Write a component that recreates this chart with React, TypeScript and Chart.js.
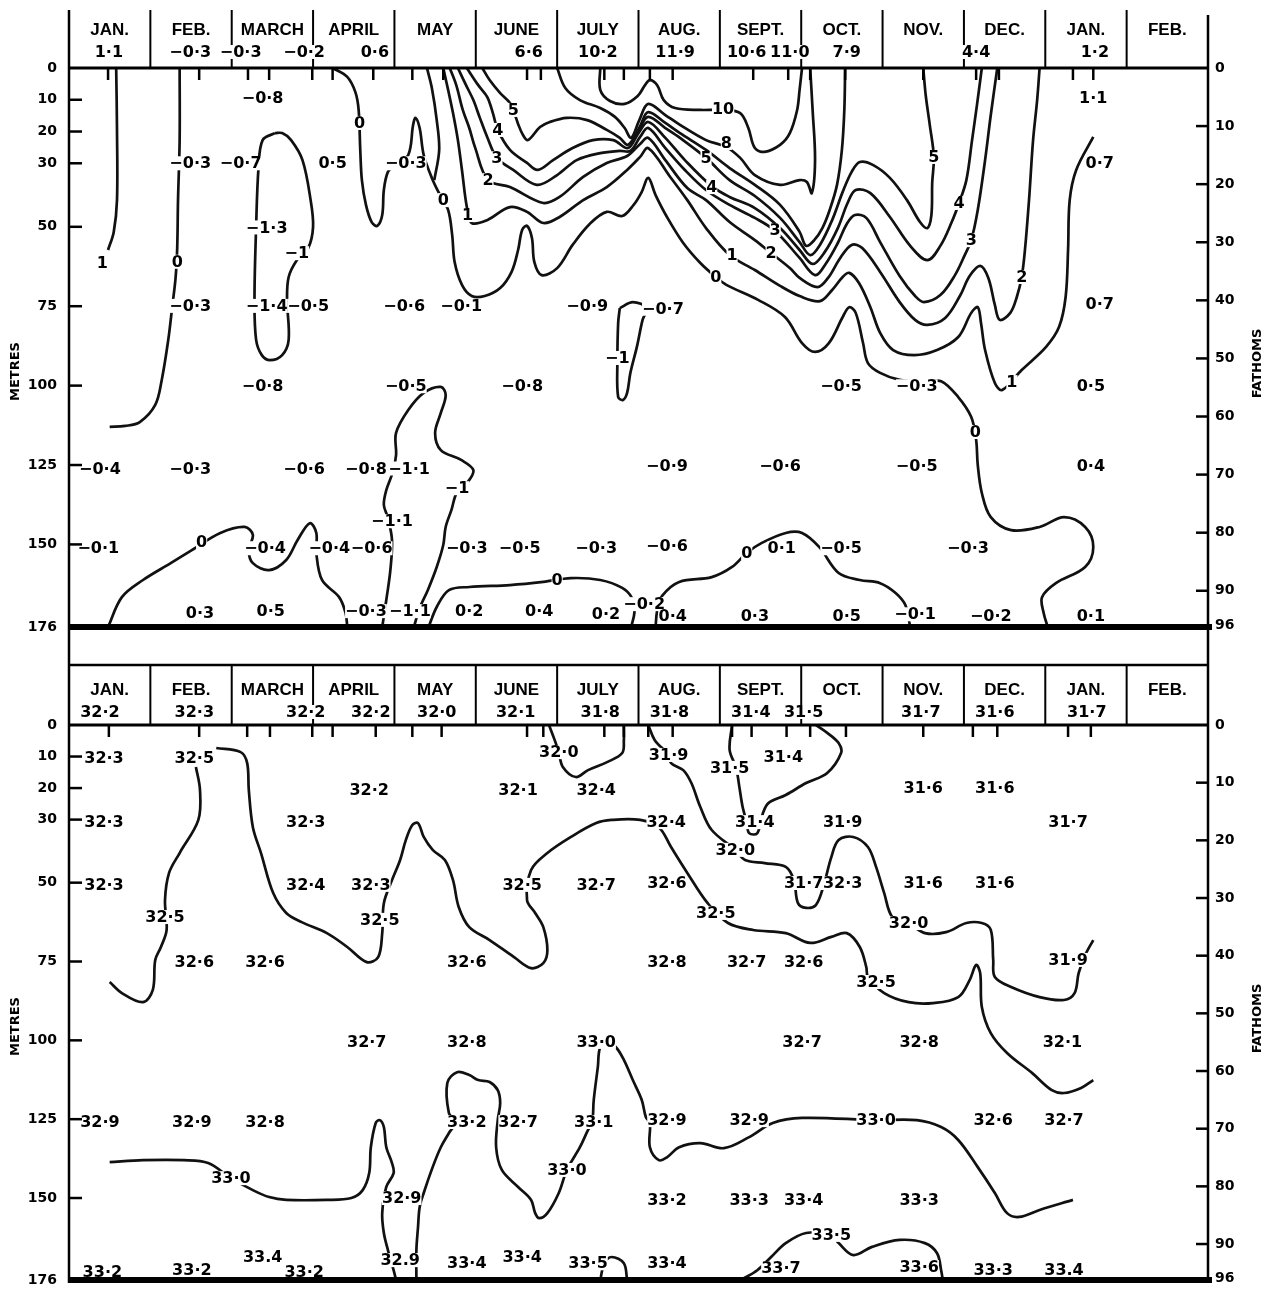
import { useEffect, useRef } from "react";
import { Chart, registerables } from "chart.js";

Chart.register(...registerables);

// ---------------- shared axes ----------------
const MONTHS = ["JAN.", "FEB.", "MARCH", "APRIL", "MAY", "JUNE", "JULY", "AUG.", "SEPT.", "OCT.", "NOV.", "DEC.", "JAN.", "FEB."];
const DEPTH_TICKS = [0, 10, 20, 30, 50, 75, 100, 125, 150, 176];
const FATHOM_TICKS = [0, 10, 20, 30, 40, 50, 60, 70, 80, 90, 96];
const METRES_PER_FATHOM = 1.8288;
const MAX_DEPTH = 176;
const MONTH_SPAN = 14;

// ---------------- temperature panel (months from 1 Jan, depth m) ----------------
const tempStations = [0.48, 1.6, 2.2, 2.46, 2.99, 3.24, 3.74, 4.22, 4.6, 5.63, 5.8, 6.58, 6.82, 7.14, 7.42, 8.41, 8.84, 9.11, 9.54, 10.5, 11.15, 11.43, 12.34, 12.59];
const tempSurface = [[0.49, "1·1"], [1.49, "−0·3"], [2.11, "−0·3"], [2.89, "−0·2"], [3.76, "0·6"], [5.65, "6·6"], [6.5, "10·2"], [7.45, "11·9"], [8.33, "10·6"], [8.86, "11·0"], [9.56, "7·9"], [11.15, "4·4"], [12.61, "1·2"]];

const t1Jan = [[0.58, 0], [0.59, 19.5], [0.59, 41.6], [0.55, 51.6], [0.48, 57.3]];
const t0Feb = [[1.36, 0], [1.36, 22.7], [1.34, 41.6], [1.33, 56.7], [1.31, 66.1], [1.27, 74.9], [1.22, 85.6], [1.14, 98.2], [1.06, 106.1], [0.87, 111.5], [0.69, 112.7], [0.5, 113.0]];
const tM1Mar = [[2.53, 20.5], [2.38, 22.7], [2.33, 31.2], [2.3, 50], [2.28, 73], [2.3, 85.6], [2.37, 90.4], [2.47, 92], [2.62, 90.4], [2.7, 85.6], [2.68, 73], [2.7, 65.8], [2.8, 60.5], [2.94, 56.7], [3.0, 50], [2.97, 41.6], [2.87, 29], [2.73, 22.7], [2.62, 20.5], [2.53, 20.5]];
const t0Main = [[3.24, 0], [3.42, 2.8], [3.52, 7.6], [3.56, 13.2], [3.58, 25.8], [3.6, 35.3], [3.65, 43.1], [3.72, 48.5], [3.79, 49.7], [3.85, 46.3], [3.87, 38.4], [3.92, 32.7], [4.01, 30.5], [4.17, 27.4], [4.23, 17.9], [4.26, 15.7], [4.31, 18.9], [4.36, 27.4], [4.46, 34.6], [4.56, 40.0], [4.66, 44.7], [4.71, 52.6], [4.74, 61.1], [4.83, 68.3], [4.95, 71.8], [5.11, 71.8], [5.3, 69.3], [5.44, 64.2], [5.52, 57.3], [5.57, 51.0], [5.63, 49.7], [5.69, 53.5], [5.72, 61.1], [5.81, 65.2], [6.0, 63.0], [6.19, 55.7], [6.4, 49.1], [6.61, 45.3], [6.8, 46.6], [6.94, 43.1], [7.04, 39.0], [7.12, 34.6], [7.21, 40.0], [7.35, 46.9], [7.55, 55.1], [7.76, 61.4], [7.95, 65.8], [8.08, 68.3], [8.47, 73.0], [8.8, 78.4], [9.01, 86.6], [9.17, 89.4], [9.34, 86.6], [9.51, 78.4], [9.59, 75.3], [9.67, 77.1], [9.76, 86.6], [9.82, 92.9], [9.97, 96.0], [10.21, 98.2], [10.52, 98.9], [10.72, 98.6], [10.93, 103.6], [11.09, 109.9], [11.15, 117.1], [11.17, 125.0], [11.22, 133.8], [11.33, 141.4], [11.58, 145.5], [11.93, 144.5], [12.23, 141.4], [12.49, 144.5], [12.59, 150.8], [12.49, 157.1], [12.13, 162.2], [11.96, 166.6], [11.98, 171.6], [12.03, 176]];
const t0Branch = [[4.4, 0], [4.46, 6.3], [4.52, 16.4], [4.55, 25.8], [4.49, 35.3]];
const t1 = [[4.6, 0], [4.66, 6.9], [4.72, 14.2], [4.78, 22.7], [4.83, 32.1], [4.89, 43.8], [4.95, 48.8], [5.14, 47.9], [5.42, 43.8], [5.63, 45.3], [5.83, 48.8], [6.03, 46.9], [6.32, 41.6], [6.61, 37.5], [6.86, 32.1], [7.02, 28.0], [7.12, 25.2], [7.39, 34.3], [7.6, 41.6], [7.83, 50.4], [8.12, 58.9], [8.43, 63.6], [8.74, 68.6], [8.98, 71.8], [9.23, 73.4], [9.38, 69.9], [9.51, 65.8], [9.59, 64.5], [9.71, 67.7], [9.85, 75.3], [9.97, 83.4], [10.13, 88.8], [10.39, 90.4], [10.67, 88.8], [10.93, 84.7], [11.09, 77.1], [11.17, 75.3], [11.21, 80.3], [11.26, 88.8], [11.38, 99.2], [11.47, 101.4], [11.71, 95.1], [12.01, 87.8], [12.17, 81.5], [12.25, 72.1], [12.28, 57.3], [12.3, 41.6], [12.38, 32.1], [12.59, 21.7]];
const t2 = [[4.68, 0], [4.76, 5.4], [4.84, 13.2], [4.92, 18.9], [4.99, 24.9], [5.15, 35.3], [5.42, 37.5], [5.83, 42.5], [6.03, 40.6], [6.32, 34.3], [6.61, 29.9], [6.86, 27.7], [7.02, 23.9], [7.12, 22.0], [7.33, 29.0], [7.6, 37.8], [7.83, 41.6], [8.12, 48.5], [8.43, 54.2], [8.63, 58.3], [8.86, 63.0], [8.98, 66.1], [9.2, 69.0], [9.33, 66.1], [9.48, 59.8], [9.62, 55.7], [9.75, 56.7], [9.97, 64.2], [10.21, 73.7], [10.4, 79.3], [10.55, 80.9], [10.77, 78.7], [10.95, 71.8], [11.07, 65.5], [11.2, 62.3], [11.3, 66.1], [11.38, 74.6], [11.44, 79.3], [11.57, 77.1], [11.65, 72.1], [11.71, 65.8], [11.75, 57.3], [11.8, 41.6], [11.85, 22.7], [11.9, 10.1], [11.93, 0]];
const t3 = [[4.78, 0], [4.88, 5.4], [4.97, 10.1], [5.05, 15.7], [5.14, 21.7], [5.26, 28.3], [5.46, 32.1], [5.75, 36.8], [6.0, 33.7], [6.24, 29.0], [6.53, 26.8], [6.77, 26.1], [6.9, 26.1], [7.02, 21.7], [7.12, 18.9], [7.33, 25.2], [7.57, 32.1], [7.83, 38.4], [8.12, 43.1], [8.43, 47.2], [8.68, 51.3], [8.98, 59.8], [9.17, 65.2], [9.3, 61.7], [9.45, 55.1], [9.56, 49.1], [9.66, 46.3], [9.8, 47.2], [9.97, 54.8], [10.21, 65.5], [10.4, 71.8], [10.51, 73.7], [10.71, 71.5], [10.89, 65.2], [11.01, 58.9], [11.09, 54.2], [11.17, 44.7], [11.26, 29.0], [11.33, 14.8], [11.41, 0]];
const t4 = [[4.89, 0], [5.03, 5.4], [5.14, 9.1], [5.21, 14.2], [5.27, 19.5], [5.42, 25.8], [5.63, 29.9], [5.76, 32.1], [5.95, 29.0], [6.19, 25.2], [6.44, 22.7], [6.69, 22.7], [6.87, 25.2], [7.0, 20.5], [7.12, 17.0], [7.33, 22.0], [7.57, 29.0], [7.9, 37.2], [8.12, 40.6], [8.43, 44.1], [8.74, 50.4], [8.98, 57.3], [9.14, 61.7], [9.29, 57.9], [9.45, 50.4], [9.57, 42.5], [9.67, 38.4], [9.85, 39.4], [10.09, 46.9], [10.34, 56.0], [10.55, 60.5], [10.71, 56.0], [10.85, 48.5], [10.94, 42.5], [11.03, 35.3], [11.1, 22.7], [11.16, 11.7], [11.22, 0]];
const t5 = [[5.08, 0], [5.17, 3.8], [5.3, 7.9], [5.42, 11.0], [5.47, 13.9], [5.52, 17.6], [5.58, 21.1], [5.64, 22.7], [5.79, 18.6], [5.91, 17.0], [6.12, 15.7], [6.37, 16.4], [6.61, 19.5], [6.77, 22.0], [6.87, 24.2], [7.0, 19.5], [7.12, 15.4], [7.33, 18.9], [7.51, 22.0], [7.83, 28.3], [8.12, 35.3], [8.43, 40.3], [8.74, 47.2], [8.98, 54.8], [9.11, 58.9], [9.23, 55.7], [9.38, 47.9], [9.51, 39.0], [9.62, 32.7], [9.72, 29.6], [9.88, 30.5], [10.09, 34.6], [10.3, 41.6], [10.46, 48.5], [10.55, 50.4], [10.6, 46.3], [10.61, 36.2], [10.63, 28.0], [10.58, 17.9], [10.53, 8.5], [10.5, 0]];
const t6 = [[6.94, 22.7], [7.02, 18.3], [7.12, 13.9], [7.33, 17.3], [7.51, 20.5], [7.83, 25.8], [8.12, 31.5], [8.43, 36.8], [8.74, 43.1], [8.98, 51.6], [9.06, 56.0], [9.16, 54.2], [9.26, 50.4], [9.35, 44.7], [9.44, 36.8], [9.5, 25.8], [9.53, 13.2], [9.54, 0]];
const t8 = [[6.0, 0], [6.1, 6.3], [6.28, 10.1], [6.53, 12.6], [6.71, 15.4], [6.83, 18.9], [6.91, 22.0], [7.01, 16.4], [7.12, 11.3], [7.33, 14.8], [7.51, 17.9], [7.83, 22.7], [8.08, 24.9], [8.25, 28.3], [8.43, 33.7], [8.74, 36.8], [8.98, 35.3], [9.07, 35.9], [9.13, 39.4], [9.17, 29.0], [9.14, 13.2], [9.11, 0]];
const t10 = [[6.53, 0], [6.53, 6.9], [6.65, 10.4], [6.83, 11.3], [6.99, 8.8], [7.08, 5.4], [7.14, 3.8], [7.23, 5.4], [7.31, 10.1], [7.45, 12.6], [7.76, 13.2], [8.04, 13.2], [8.25, 14.2], [8.35, 18.9], [8.43, 25.2], [8.55, 26.4], [8.74, 24.2], [8.86, 20.5], [8.95, 13.2], [8.98, 6.9], [9.01, 0]];
const tM1Jul = [[6.77, 75.6], [6.93, 73.7], [7.1, 75.6], [7.05, 79.3], [6.98, 87.8], [6.9, 96.0], [6.86, 102.3], [6.81, 104.5], [6.75, 103.6], [6.74, 92.9], [6.75, 80.3], [6.77, 75.6]];
const tM1May = [[3.85, 176], [3.9, 167.5], [3.95, 158.1], [3.97, 148.6], [3.92, 141.7], [3.87, 137.6], [3.9, 132.9], [3.98, 127.2], [4.02, 121.9], [4.02, 114.9], [4.17, 107.7], [4.36, 102.3], [4.57, 100.4], [4.63, 103.0], [4.57, 108.6], [4.5, 114.9], [4.57, 120.3], [4.82, 123.4], [4.97, 126.6], [4.9, 130.4], [4.77, 133.5], [4.7, 139.2], [4.63, 144.5], [4.6, 150.2], [4.52, 157.1], [4.41, 164.4], [4.31, 170.0], [4.24, 176]];
const t0Spring = [[0.48, 176], [0.65, 166.6], [0.91, 161.2], [1.25, 155.9], [1.51, 151.8], [1.86, 146.4], [2.16, 144.5], [2.26, 147.0], [2.21, 151.8], [2.26, 155.9], [2.46, 158.1], [2.67, 154.9], [2.81, 148.6], [2.96, 143.3], [3.04, 146.4], [3.04, 152.7], [3.11, 161.2], [3.32, 166.6], [3.4, 171.6], [3.42, 176]];
const t0Summer = [[4.42, 176], [4.52, 169.7], [4.67, 164.4], [4.92, 163.4], [5.42, 162.8], [5.83, 161.8], [6.17, 160.6], [6.53, 161.2], [6.8, 163.7], [6.92, 166.9], [6.95, 171.3], [6.91, 176]];
const t0Autumn = [[7.21, 176], [7.23, 170.7], [7.29, 166.2], [7.5, 161.8], [7.9, 160.3], [8.15, 157.1], [8.33, 152.7], [8.51, 149.6], [8.81, 146.4], [9.01, 146.4], [9.22, 150.8], [9.46, 159.0], [9.72, 161.2], [9.97, 162.2], [10.16, 165.3], [10.28, 169.1], [10.34, 176]];

const tempValues = [
  [2.38, 9.5, "−0·8"], [12.59, 9.5, "1·1"],
  [1.49, 30, "−0·3"], [2.11, 30, "−0·7"], [3.24, 30, "0·5"], [4.14, 30, "−0·3"], [12.67, 30, "0·7"],
  [2.43, 50.2, "−1·3"],
  [1.49, 74.9, "−0·3"], [2.43, 74.9, "−1·4"], [2.94, 74.9, "−0·5"], [4.12, 74.9, "−0·6"], [4.82, 74.9, "−0·1"], [6.37, 74.9, "−0·9"], [7.3, 75.8, "−0·7"], [12.67, 74.3, "0·7"],
  [2.38, 100.2, "−0·8"], [4.14, 100.2, "−0·5"], [5.57, 100.2, "−0·8"], [9.49, 100.2, "−0·5"], [10.42, 100.2, "−0·3"], [12.56, 100.2, "0·5"],
  [0.38, 126.1, "−0·4"], [1.49, 126.1, "−0·3"], [2.89, 126.1, "−0·6"], [3.65, 126.1, "−0·8"], [4.18, 126.1, "−1·1"], [7.35, 125.4, "−0·9"], [8.74, 125.4, "−0·6"], [10.42, 125.4, "−0·5"], [12.56, 125.4, "0·4"],
  [3.97, 142.7, "−1·1"],
  [0.36, 151.2, "−0·1"], [2.41, 151.2, "−0·4"], [3.2, 151.2, "−0·4"], [3.72, 151.2, "−0·6"], [4.89, 151.2, "−0·3"], [5.54, 151.2, "−0·5"], [6.48, 151.2, "−0·3"], [7.35, 150.6, "−0·6"], [8.76, 151.2, "0·1"], [9.49, 151.2, "−0·5"], [11.05, 151.2, "−0·3"],
  [1.61, 171.7, "0·3"], [2.48, 171, "0·5"], [3.65, 171, "−0·3"], [4.19, 171, "−1·1"], [4.92, 171, "0·2"], [5.78, 171, "0·4"], [6.6, 172, "0·2"], [7.07, 168.8, "−0·2"], [7.42, 172.6, "0·4"], [8.43, 172.6, "0·3"], [9.56, 172.6, "0·5"], [10.4, 172, "−0·1"], [11.33, 172.6, "−0·2"], [12.56, 172.6, "0·1"],
];
const tempContourLabels = [
  [0.41, 61.5, "1"], [1.33, 61, "0"], [3.57, 17.3, "0"], [2.8, 58.3, "−1"], [4.6, 41.6, "0"],
  [5.46, 13.2, "5"], [5.27, 19.5, "4"], [5.26, 28.4, "3"], [5.15, 35.3, "2"], [4.9, 46.3, "1"],
  [8.04, 12.9, "10"], [8.08, 23.6, "8"], [7.83, 28.4, "5"], [7.9, 37.5, "4"], [8.68, 51.0, "3"], [8.63, 58.3, "2"], [8.15, 58.9, "1"], [7.95, 65.8, "0"],
  [10.63, 28.0, "5"], [10.94, 42.5, "4"], [11.09, 54.2, "3"], [11.71, 65.8, "2"], [11.59, 98.9, "1"], [11.14, 114.6, "0"],
  [6.74, 91.3, "−1"], [4.77, 132.3, "−1"], [1.63, 149.2, "0"], [6.0, 161.2, "0"], [8.33, 152.7, "0"],
];

// ---------------- salinity panel ----------------
const salStations = [0.49, 1.6, 2.19, 2.47, 2.99, 3.24, 3.77, 4.22, 4.58, 5.63, 5.83, 6.58, 6.82, 7.12, 7.42, 8.15, 8.39, 8.82, 9.11, 9.55, 10.5, 11.11, 11.41, 12.28, 12.56];
const salSurface = [[0.38, "32·2"], [1.54, "32·3"], [2.91, "32·2"], [3.71, "32·2"], [4.52, "32·0"], [5.49, "32·1"], [6.53, "31·8"], [7.38, "31·8"], [8.38, "31·4"], [9.03, "31·5"], [10.47, "31·7"], [11.38, "31·6"], [12.51, "31·7"]];

const s325Feb = [[1.56, 13.3], [1.61, 20.6], [1.59, 30.1], [1.36, 40.6], [1.23, 46.9], [1.18, 55.5], [1.2, 65.0], [1.13, 70.4], [1.06, 74.5], [1.03, 84.0], [0.91, 87.9], [0.65, 85.0], [0.5, 81.5]];
const s325 = [[1.81, 7.3], [2.11, 8.6], [2.19, 12.1], [2.21, 20.6], [2.26, 32.4], [2.36, 40.6], [2.51, 53.3], [2.67, 59.6], [2.86, 62.5], [3.17, 66.0], [3.42, 70.4], [3.66, 75.2], [3.8, 73.6], [3.85, 66.0], [3.87, 56.5], [3.97, 49.2], [4.07, 42.8], [4.14, 36.5], [4.22, 31.7], [4.29, 31.1], [4.36, 35.5], [4.47, 39.6], [4.62, 42.8], [4.72, 49.2], [4.79, 57.7], [4.92, 64.1], [5.17, 68.2], [5.47, 73.6], [5.68, 77.1], [5.83, 75.5], [5.88, 71.4], [5.83, 64.1], [5.73, 59.6], [5.63, 55.5], [5.68, 46.0], [5.88, 40.6], [6.17, 35.5], [6.48, 31.1], [6.67, 30.1], [7.02, 30.1], [7.25, 32.4], [7.4, 38.7], [7.6, 46.9], [7.85, 56.5], [8.1, 62.8], [8.41, 65.0], [8.81, 66.0], [9.11, 69.1], [9.37, 67.2], [9.56, 66.0], [9.72, 70.4], [9.8, 76.8], [9.82, 79.9], [10.02, 85.0], [10.32, 87.9], [10.62, 88.2], [10.93, 86.3], [11.07, 80.9], [11.15, 76.1], [11.2, 78.7], [11.22, 89.4], [11.33, 97.7], [11.53, 104.0], [11.84, 110.4], [12.08, 115.8], [12.23, 116.7], [12.44, 115.1], [12.59, 112.6]];
const s320Jul = [[5.9, 0], [5.97, 4.8], [6.02, 8.6], [6.07, 13.3], [6.23, 16.5], [6.38, 14.3], [6.62, 11.7], [6.8, 8.9], [6.82, 4.8], [6.82, 0]];
const s320 = [[7.12, 0], [7.2, 4.8], [7.37, 9.5], [7.4, 12.1], [7.55, 14.3], [7.65, 18.4], [7.76, 26.0], [7.9, 33.3], [8.19, 39.6], [8.31, 42.8], [8.55, 43.8], [8.81, 45.0], [8.91, 49.2], [8.96, 56.5], [9.06, 58.0], [9.18, 57.1], [9.27, 51.4], [9.37, 41.9], [9.46, 36.5], [9.64, 35.5], [9.82, 38.7], [9.92, 45.0], [10.02, 53.3], [10.12, 60.9], [10.32, 62.8], [10.52, 66.0], [10.78, 65.7], [11.03, 62.8], [11.22, 62.8], [11.33, 65.0], [11.36, 74.5], [11.38, 79.9], [11.58, 83.1], [11.93, 86.3], [12.23, 87.2], [12.36, 85.0], [12.41, 78.7], [12.49, 73.0], [12.59, 68.2]];
const s315 = [[8.15, 0], [8.12, 7.9], [8.2, 13.6], [8.24, 19.7], [8.28, 26.0], [8.33, 30.8], [8.36, 34.3], [8.46, 34.3], [8.53, 27.9], [8.6, 24.7], [8.81, 22.2], [9.06, 18.4], [9.32, 15.2], [9.49, 8.9], [9.46, 5.7], [9.32, 2.5], [9.18, 0]];
const s330West = [[0.5, 138.6], [0.91, 138.0], [1.41, 138.0], [1.71, 138.9], [1.99, 143.7], [2.26, 147.5], [2.46, 149.7], [2.67, 150.6], [3.17, 150.6], [3.47, 150.0], [3.61, 147.5], [3.69, 142.1], [3.71, 133.9], [3.77, 126.2], [3.82, 125.3], [3.87, 127.5], [3.9, 133.9], [3.97, 138.9], [3.99, 142.1], [3.9, 146.5], [3.85, 154.8], [3.87, 161.1], [3.92, 166.5], [3.99, 172.9], [4.02, 176]];
const s330East = [[4.27, 176], [4.27, 166.5], [4.29, 159.2], [4.31, 152.9], [4.36, 148.4], [4.47, 140.2], [4.57, 133.9], [4.67, 129.4], [4.75, 125.9], [4.67, 123.1], [4.65, 113.5], [4.77, 110.1], [4.92, 111.0], [5.03, 112.6], [5.17, 113.2], [5.27, 115.8], [5.3, 119.9], [5.27, 125.3], [5.25, 133.9], [5.32, 141.1], [5.52, 146.5], [5.68, 150.6], [5.73, 154.8], [5.78, 156.4], [5.88, 154.8], [6.02, 148.4], [6.12, 141.1], [6.28, 133.9], [6.38, 128.4], [6.43, 126.2], [6.45, 118.9], [6.5, 108.5], [6.53, 102.1], [6.62, 100.9], [6.72, 102.1], [6.82, 106.2], [6.93, 112.6], [7.04, 118.9], [7.09, 124.3], [7.14, 126.2], [7.14, 133.9], [7.25, 138.0], [7.35, 137.1], [7.5, 133.9], [7.76, 132.6], [8.05, 134.2], [8.36, 130.7], [8.65, 126.2], [9.01, 124.6], [9.92, 125.3], [10.42, 125.3], [10.72, 127.5], [10.93, 131.6], [11.17, 140.2], [11.38, 148.4], [11.53, 154.8], [11.68, 156.0], [11.93, 153.8], [12.34, 150.6]];
const s335 = [[8.26, 176], [8.46, 172.9], [8.63, 168.7], [8.81, 164.3], [9.06, 161.1], [9.37, 161.7], [9.46, 164.3], [9.64, 168.1], [9.87, 165.5], [10.21, 163.3], [10.52, 164.3], [10.67, 167.5], [10.72, 172.9], [10.74, 176]];
const s335Jul = [[6.53, 176], [6.58, 170.7], [6.67, 168.7], [6.82, 170.7], [6.86, 176]];

const salValues = [
  [0.43, 10.5, "32·3"], [1.54, 10.5, "32·5"], [6.02, 8.6, "32·0"], [7.37, 9.5, "31·9"], [8.12, 13.6, "31·5"], [8.78, 10.1, "31·4"],
  [3.69, 20.6, "32·2"], [5.52, 20.6, "32·1"], [6.48, 20.6, "32·4"], [10.5, 20.0, "31·6"], [11.38, 20.0, "31·6"],
  [0.43, 30.8, "32·3"], [2.91, 30.8, "32·3"], [7.34, 30.8, "32·4"], [8.43, 30.8, "31·4"], [9.51, 30.8, "31·9"], [12.28, 30.8, "31·7"],
  [8.19, 39.6, "32·0"],
  [0.43, 50.7, "32·3"], [2.91, 50.7, "32·4"], [3.71, 50.7, "32·3"], [5.57, 50.7, "32·5"], [6.48, 50.7, "32·7"], [7.35, 50.1, "32·6"], [9.03, 50.1, "31·7"], [9.51, 50.1, "32·3"], [10.5, 50.1, "31·6"], [11.38, 50.1, "31·6"],
  [1.18, 60.9, "32·5"], [3.82, 61.8, "32·5"], [7.95, 59.6, "32·5"], [10.32, 62.8, "32·0"],
  [1.54, 75.2, "32·6"], [2.41, 75.2, "32·6"], [4.89, 75.2, "32·6"], [7.35, 75.2, "32·8"], [8.33, 75.2, "32·7"], [9.03, 75.2, "32·6"], [12.28, 74.5, "31·9"], [9.92, 81.5, "32·5"],
  [3.66, 100.5, "32·7"], [4.89, 100.5, "32·8"], [6.48, 100.5, "33·0"], [9.01, 100.5, "32·7"], [10.45, 100.5, "32·8"], [12.21, 100.5, "32·1"],
  [0.38, 125.9, "32·9"], [1.51, 125.9, "32·9"], [2.41, 125.9, "32·8"], [4.89, 125.9, "33·2"], [5.52, 125.9, "32·7"], [6.45, 125.9, "33·1"], [7.35, 125.3, "32·9"], [8.36, 125.3, "32·9"], [9.92, 125.3, "33·0"], [11.36, 125.3, "32·6"], [12.23, 125.3, "32·7"],
  [1.99, 143.7, "33·0"], [6.12, 141.1, "33·0"],
  [4.09, 150.0, "32·9"], [7.35, 150.6, "33·2"], [8.36, 150.6, "33·3"], [9.03, 150.6, "33·4"], [10.45, 150.6, "33·3"],
  [9.37, 161.7, "33·5"],
  [0.41, 173.5, "33·2"], [1.51, 172.9, "33·2"], [2.38, 168.7, "33.4"], [2.89, 173.5, "33·2"], [4.07, 169.7, "32.9"], [4.89, 170.7, "33·4"], [5.57, 168.7, "33·4"], [6.38, 170.7, "33·5"], [7.35, 170.7, "33·4"], [8.75, 172.2, "33·7"], [10.45, 171.9, "33·6"], [11.36, 172.9, "33·3"], [12.23, 172.9, "33.4"],
];

// ---------------- panel configs ----------------
const tempPanel = {
  lines: [t1Jan, t0Feb, tM1Mar, t0Main, t0Branch, t1, t2, t3, t4, t5, t6, t8, t10, tM1Jul, tM1May, t0Spring, t0Summer, t0Autumn],
  stations: tempStations,
  surface: tempSurface,
  labels: [...tempValues, ...tempContourLabels],
  pad: { top: 68, bottom: 18 },
  headerTop: 10, frameTop: 10, frameTopRight: 15, headerLine: false, nameY: 30, valueY: 52,
  frameBottom: 645,
};
const salPanel = {
  lines: [s325Feb, s325, s320Jul, s320, s315, s330West, s330East, s335, s335Jul],
  stations: salStations,
  surface: salSurface,
  labels: salValues,
  pad: { top: 80, bottom: 10 },
  headerTop: 20, frameTop: 0, frameTopRight: 0, headerLine: true, nameY: 45, valueY: 67,
  frameBottom: 638,
};

const FONT_NUM = 'bold 16px "DejaVu Sans", sans-serif';
const FONT_MONTH = 'bold 17px "Liberation Sans", Arial, sans-serif';
const FONT_AXIS = 'bold 14px "DejaVu Sans", sans-serif';
const FONT_TITLE = 'bold 13px "DejaVu Sans", sans-serif';

function knockText(ctx: any, t: string, px: number, py: number) {
  const w = ctx.measureText(t).width;
  ctx.fillStyle = "#fff";
  ctx.fillRect(px - w / 2, py - 7, w, 14);
  ctx.fillStyle = "#000";
  ctx.fillText(t, px, py + 1);
}

function drawPanel(chart: any, cfg: any) {
  const { ctx, chartArea: a } = chart;
  const xs = chart.scales.x;
  const ys = chart.scales.y;
  const X = (m: number) => xs.getPixelForValue(m);
  const Y = (d: number) => ys.getPixelForValue(d);
  const seg = (x1: number, y1: number, x2: number, y2: number, w: number) => {
    ctx.lineWidth = w;
    ctx.beginPath();
    ctx.moveTo(x1, y1);
    ctx.lineTo(x2, y2);
    ctx.stroke();
  };
  ctx.save();
  ctx.strokeStyle = "#000";
  ctx.fillStyle = "#000";
  ctx.textBaseline = "middle";

  // value and contour labels (white knock-out behind text)
  ctx.font = FONT_NUM;
  ctx.textAlign = "center";
  cfg.labels.forEach(([m, d, t]: any) => knockText(ctx, t, X(m), Y(d)));

  // frame
  seg(a.left, cfg.frameTop, a.left, cfg.frameBottom, 2.5);
  seg(a.right, cfg.frameTopRight, a.right, cfg.frameBottom, 2.5);
  if (cfg.headerLine) seg(a.left, cfg.headerTop, a.right, cfg.headerTop, 2.5);
  for (let i = 1; i < MONTHS.length; i++) seg(X(i), cfg.headerTop, X(i), a.top, 2);
  seg(a.left, a.top, a.right, a.top, 3);
  seg(a.left, a.bottom, a.right + 4, a.bottom, 6);
  cfg.stations.forEach((m: number) => seg(X(m), a.top, X(m), a.top + 12, 2.5));

  // header text
  ctx.textAlign = "center";
  ctx.font = FONT_MONTH;
  MONTHS.forEach((name, i) => ctx.fillText(name, X(i + 0.5), cfg.nameY));
  ctx.font = FONT_NUM;
  cfg.surface.forEach(([m, t]: any) => knockText(ctx, t, X(m), cfg.valueY));

  // depth axes
  ctx.font = FONT_AXIS;
  ctx.textAlign = "right";
  DEPTH_TICKS.forEach((d) => {
    const py = Y(d);
    ctx.fillText(String(d), a.left - 12, py);
    if (d > 0 && d < MAX_DEPTH) seg(a.left, py, a.left + 13, py, 2.5);
  });
  ctx.textAlign = "left";
  FATHOM_TICKS.forEach((f) => {
    const py = Y(f * METRES_PER_FATHOM);
    ctx.fillText(String(f), a.right + 7, py);
    if (f > 0 && f < 96) seg(a.right - 12, py, a.right, py, 2.5);
  });

  // axis titles
  ctx.font = FONT_TITLE;
  ctx.textAlign = "center";
  const mid = (a.top + a.bottom) / 2;
  ctx.save();
  ctx.translate(16, mid + 24);
  ctx.rotate(-Math.PI / 2);
  ctx.fillText("METRES", 0, 0);
  ctx.restore();
  ctx.save();
  ctx.translate(a.right + 50, mid + 16);
  ctx.rotate(-Math.PI / 2);
  ctx.fillText("FATHOMS", 0, 0);
  ctx.restore();

  ctx.restore();
}

function Panel({ cfg }: { cfg: any }) {
  const ref = useRef<HTMLCanvasElement | null>(null);
  useEffect(() => {
    const canvas = ref.current;
    if (!canvas) return;
    const decor = { id: "decor", afterDraw: (c: any) => drawPanel(c, cfg) };
    const chart = new Chart(canvas, {
      type: "scatter",
      data: {
        datasets: cfg.lines.map((l: number[][]) => ({
          data: l.map(([x, y]) => ({ x, y })),
          showLine: true,
          borderColor: "#111",
          borderWidth: 2.7,
          pointRadius: 0,
          tension: 0.35,
          fill: false,
        })),
      },
      options: {
        animation: false,
        responsive: false,
        devicePixelRatio: 1,
        events: [],
        layout: { padding: { left: 69, right: 58, top: cfg.pad.top, bottom: cfg.pad.bottom } },
        scales: {
          x: { type: "linear", min: 0, max: MONTH_SPAN, display: false },
          y: { type: "linear", min: 0, max: MAX_DEPTH, reverse: true, display: false },
        },
        plugins: { legend: { display: false }, tooltip: { enabled: false }, title: { display: false } },
      },
      plugins: [decor],
    } as any);
    return () => chart.destroy();
  }, [cfg]);
  return <canvas ref={ref} width={1266} height={645} style={{ display: "block", width: 1266, height: 645 }} />;
}

export default function App() {
  useEffect(() => {
    document.body.style.margin = "0";
    document.body.style.background = "#fff";
  }, []);
  return (
    <div style={{ position: "relative", width: 1266, height: 1290, background: "#fff" }}>
      <Panel cfg={tempPanel} />
      <Panel cfg={salPanel} />
    </div>
  );
}
